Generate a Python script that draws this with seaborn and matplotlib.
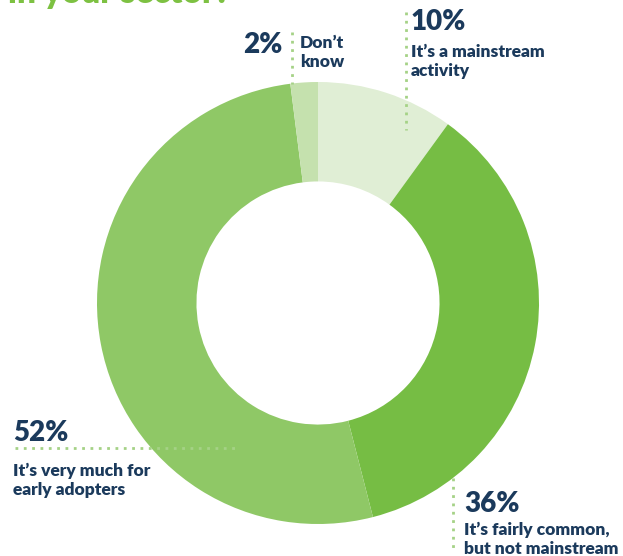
import matplotlib
matplotlib.use("Agg")
import matplotlib.pyplot as plt
import seaborn as sns

# Data
labels = ["It’s a mainstream\nactivity", "It’s fairly common,\nbut not mainstream",
          "It’s very much for\nearly adopters", "Don’t\nknow"]
values = [10, 36, 52, 2]
colors = ["#e0eed5", "#76bd44", "#8fc866", "#c5e1ae"]

sns.set_theme(style="white")
plt.rcParams['font.family'] = ['Lato', 'DejaVu Sans']

W, H = 623, 556
fig = plt.figure(figsize=(W / 100, H / 100), dpi=100)

# donut, center (318, 303), outer radius 221 px
cx, cy, r = 318, 303, 221
ax = fig.add_axes([(cx - r) / W, (H - cy - r) / H, 2 * r / W, 2 * r / H])
ax.pie(values, colors=sns.color_palette(colors), startangle=90, counterclock=False,
       radius=1, wedgeprops=dict(width=0.45, linewidth=0))
ax.set_xlim(-1, 1)
ax.set_ylim(-1, 1)
ax.axis('off')

# overlay in pixel coords for labels and leader lines
ov = fig.add_axes([0, 0, 1, 1])
ov.set_xlim(0, W)
ov.set_ylim(H, 0)
ov.axis('off')
ov.patch.set_alpha(0)

navy = "#1b3a5c"
dot = dict(color="#a5d286", lw=2, ls=(0, (1, 2)))
big = dict(color=navy, fontsize=20, fontweight='heavy', va='baseline')
small = dict(color=navy, fontsize=12.5, fontweight='heavy', va='baseline', linespacing=1.25)

ov.text(8, 3, "in your sector?", color="#7dc142", fontsize=24, fontweight='heavy', va='baseline')

# 10%
ov.plot([406, 406], [12, 130], **dot)
ov.text(411, 30, f"{values[0]}%", **big)
ov.text(411, 76, labels[0], **small)

# 2%
ov.plot([292, 292], [32, 84], **dot)
ov.text(282, 53, f"{values[3]}%", ha='right', **big)
ov.text(300, 67, labels[3], **small)

# 52%
ov.plot([15, 236], [448, 448], **dot)
ov.text(13, 441, f"{values[2]}%", **big)
ov.text(13, 495, labels[2], **small)

# 36%
ov.plot([453, 453], [478, 552], **dot)
ov.text(464, 512, f"{values[1]}%", **big)
ov.text(464, 554, labels[1], **small)

fig.savefig("out.png", dpi=100)
